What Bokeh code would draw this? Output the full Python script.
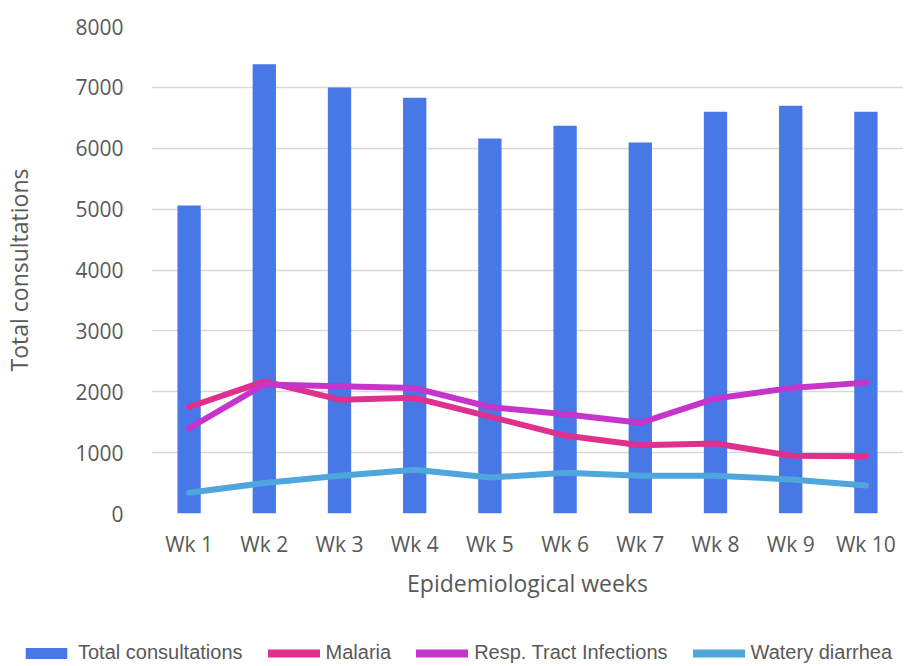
from bokeh.plotting import figure
from bokeh.layouts import column
from bokeh.models import FactorRange, Range1d, FixedTicker, Legend, LegendItem
from bokeh.embed import file_html
from bokeh.resources import INLINE

weeks = ["Wk 1", "Wk 2", "Wk 3", "Wk 4", "Wk 5", "Wk 6", "Wk 7", "Wk 8", "Wk 9", "Wk 10"]
total = [5060, 7380, 7000, 6830, 6160, 6370, 6095, 6600, 6700, 6600]
malaria = [1750, 2170, 1870, 1900, 1590, 1280, 1120, 1150, 950, 940]
resp = [1400, 2120, 2090, 2060, 1750, 1630, 1490, 1890, 2060, 2150]
watery = [340, 500, 620, 720, 590, 670, 620, 620, 560, 460]
y_ticks = [0, 1000, 2000, 3000, 4000, 5000, 6000, 7000, 8000]

TXT = "#595959"
BAR_C, MAL_C, RESP_C, WAT_C = "#4877E6", "#E0308E", "#C534CB", "#4EA6DC"

p = figure(width=903, height=620, x_range=FactorRange(*weeks), y_range=Range1d(0, 8000),
           output_backend="svg", toolbar_location=None,
           min_border_left=151, min_border_top=26, min_border_right=0, min_border_bottom=107)
p.outline_line_color = None
p.background_fill_color = "white"
p.border_fill_color = "white"
p.frame_align = False

p.vbar(x=weeks, top=total, width=0.31, color=BAR_C, line_color=None)
p.line(x=weeks, y=malaria, line_width=6, color=MAL_C, line_cap="round", line_join="round")
p.line(x=weeks, y=resp, line_width=6, color=RESP_C, line_cap="round", line_join="round")
p.line(x=weeks, y=watery, line_width=6, color=WAT_C, line_cap="round", line_join="round")

p.xgrid.grid_line_color = None
p.ygrid.grid_line_color = "#D9D9D9"
p.ygrid.grid_line_width = 1.5
p.yaxis.ticker = FixedTicker(ticks=y_ticks)

for ax in (p.xaxis[0], p.yaxis[0]):
    ax.axis_line_color = None
    ax.major_tick_line_color = None
    ax.minor_tick_line_color = None
    ax.major_label_text_font = "Open Sans"
    ax.major_label_text_font_size = "21px"
    ax.major_label_text_color = TXT
    ax.axis_label_text_font = "Open Sans"
    ax.axis_label_text_font_size = "23px"
    ax.axis_label_text_font_style = "normal"
    ax.axis_label_text_color = TXT

p.xaxis.axis_label = "Epidemiological weeks"
p.yaxis.axis_label = "Total consultations"
p.yaxis.major_label_standoff = 22
p.yaxis.axis_label_standoff = 37
p.xaxis.major_label_standoff = 10
p.xaxis.axis_label_standoff = 6

# legend strip: the same series on a range that holds none of their factors,
# so only the legend entries are drawn
lg = figure(width=903, height=44, x_range=FactorRange("-"), y_range=Range1d(0, 1),
            output_backend="svg", toolbar_location=None,
            min_border_left=0, min_border_right=0, min_border_top=0, min_border_bottom=0)
lg.frame_align = False
lg.axis.visible = False
lg.grid.visible = False
lg.outline_line_color = None
b2 = lg.vbar(x=weeks, top=total, width=0.31, color=BAR_C, line_color=None)
m2 = lg.line(x=weeks, y=malaria, line_width=8, color=MAL_C, line_cap="round")
r2 = lg.line(x=weeks, y=resp, line_width=8, color=RESP_C, line_cap="round")
w2 = lg.line(x=weeks, y=watery, line_width=8, color=WAT_C, line_cap="round")

legend = Legend(items=[LegendItem(label="Total consultations", renderers=[b2]),
                       LegendItem(label="Malaria", renderers=[m2]),
                       LegendItem(label="Resp. Tract Infections", renderers=[r2]),
                       LegendItem(label="Watery diarrhea", renderers=[w2])],
                orientation="horizontal", location=(20, 0),
                glyph_width=52, glyph_height=14, label_standoff=6, spacing=25,
                padding=0, margin=0, border_line_color=None, background_fill_alpha=0,
                label_text_font="Liberation Sans", label_text_font_size="20px",
                label_text_color=TXT)
lg.add_layout(legend, "center")

open("out.html", "w").write(file_html(column(p, lg, spacing=0), INLINE))
